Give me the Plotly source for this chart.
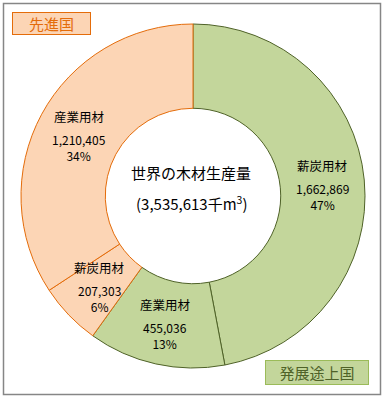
import math
import plotly.graph_objects as go

labels = ["薪炭用材", "産業用材", "薪炭用材", "産業用材"]
values = [1662869, 455036, 207303, 1210405]
groups = ["発展途上国", "発展途上国", "先進国", "先進国"]
fill_colors = ["#C3D69B", "#C3D69B", "#FCD5B5", "#FCD5B5"]
line_colors = ["#4F6228", "#4F6228", "#E46C0A", "#E46C0A"]
center_title = "世界の木材生産量"
center_total = "(3,535,613千m<sup>3</sup>)"

W, H = 384, 398
font = "Noto Sans CJK JP, Meiryo, sans-serif"

CX, CY, R_OUT, HOLE = 193, 196, 172, 0.51

fig = go.Figure()
fig.add_trace(go.Pie(
    labels=[f"{g}{l}" for g, l in zip(groups, labels)],
    values=values,
    sort=False,
    direction="clockwise",
    rotation=0,
    hole=HOLE,
    marker=dict(colors=fill_colors, line=dict(color=line_colors, width=1)),
    textinfo="none",
    showlegend=False,
    hoverinfo="skip",
    domain=dict(x=[(CX - R_OUT) / W, (CX + R_OUT) / W],
                y=[1 - (CY + R_OUT) / H, 1 - (CY - R_OUT) / H]),
))

# slice labels placed at each slice's mid-angle, mid-ring radius
total = sum(values)
r_mid = R_OUT * (1 + HOLE) / 2
cum = 0
for lab, v in zip(labels, values):
    frac = (cum + v / 2) / total
    cum += v
    ang = 2 * math.pi * frac
    px = CX + r_mid * math.sin(ang)
    py = CY - r_mid * math.cos(ang)
    pct = round(100 * v / total)
    fig.add_annotation(x=px / W, y=1 - (py - 18) / H, xref="paper", yref="paper",
                       text=lab, showarrow=False, xanchor="center", yanchor="middle",
                       font=dict(family=font, size=12.5, color="#000000"))
    fig.add_annotation(x=px / W, y=1 - (py + 13) / H, xref="paper", yref="paper",
                       text=f"{v:,}<br>{pct}%", showarrow=False,
                       xanchor="center", yanchor="middle",
                       font=dict(family=font, size=12, color="#000000"))

fig.add_annotation(x=191 / W, y=1 - 172 / H, xref="paper", yref="paper",
                   text=center_title, showarrow=False,
                   xanchor="center", yanchor="middle",
                   font=dict(family=font, size=15, color="#000000"))
fig.add_annotation(x=191 / W, y=1 - 203 / H, xref="paper", yref="paper",
                   text=center_total, showarrow=False,
                   xanchor="center", yanchor="middle",
                   font=dict(family=font, size=15, color="#000000"))

# group label boxes
fig.add_annotation(x=51.5 / W, y=1 - 23.5 / H, xref="paper", yref="paper",
                   text="先進国", showarrow=False, width=75, height=19,
                   xanchor="center", yanchor="middle",
                   bgcolor="#FCD5B5", bordercolor="#E46C0A", borderwidth=1,
                   font=dict(family=font, size=15, color="#E46C0A"))
fig.add_annotation(x=317 / W, y=1 - 372.5 / H, xref="paper", yref="paper",
                   text="発展途上国", showarrow=False, width=100, height=21,
                   xanchor="center", yanchor="middle",
                   bgcolor="#C3D69B", bordercolor="#9BBB59", borderwidth=1,
                   font=dict(family=font, size=15, color="#4F6228"))

# outer frame
fig.add_shape(type="rect", xref="paper", yref="paper",
              x0=3.5 / W, x1=380.5 / W, y0=1 - 394.5 / H, y1=1 - 3.5 / H,
              line=dict(color="#868686", width=1.5), fillcolor="rgba(0,0,0,0)")

fig.update_layout(
    width=W, height=H,
    margin=dict(l=0, r=0, t=0, b=0),
    paper_bgcolor="#FFFFFF",
    plot_bgcolor="#FFFFFF",
)

fig.write_html("out.html")
